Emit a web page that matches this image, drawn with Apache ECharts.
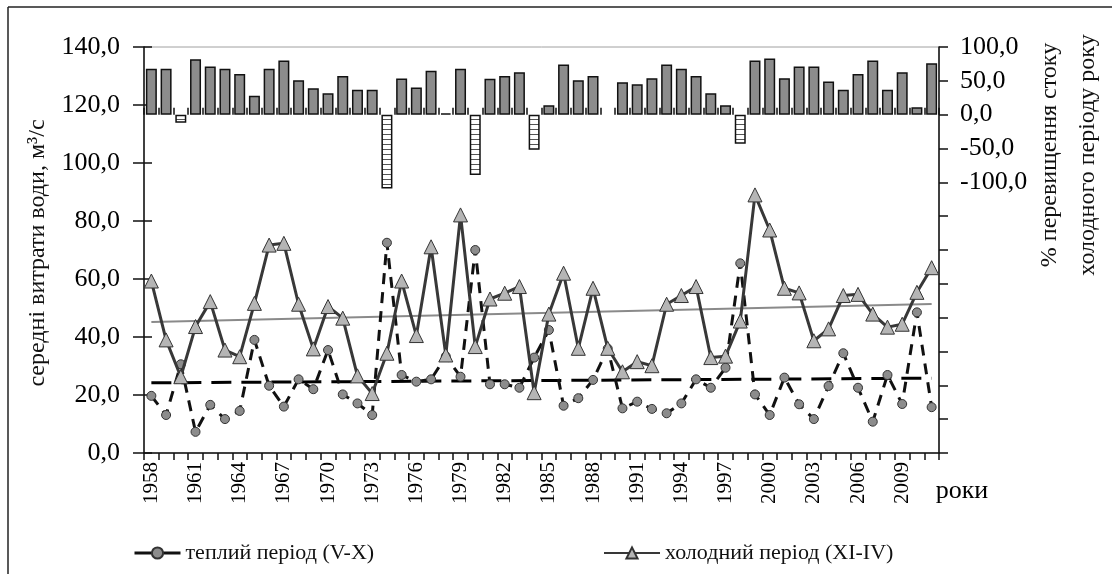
<!DOCTYPE html>
<html>
<head>
<meta charset="utf-8">
<script src="https://cdn.jsdelivr.net/npm/echarts@6/dist/echarts.min.js"></script>
<style>
html,body{margin:0;padding:0;background:#fff;}
#chart{width:1112px;height:574px;}
</style>
</head>
<body>
<div id="chart"></div>
<script>
// ---- data ----
const years = ['1958','1959','1960','1961','1962','1963','1964','1965','1966','1967',
  '1968','1969','1970','1971','1972','1973','1974','1975','1976','1977',
  '1978','1979','1980','1981','1982','1983','1984','1985','1986','1987',
  '1988','1989','1990','1991','1992','1993','1994','1995','1996','1997',
  '1998','1999','2000','2001','2002','2003','2004','2005','2006','2007',
  '2008','2009','2010','2011'];

// warm period (V-X), m3/s
const warmFlow = [19.7, 13.1, 30.6, 7.3, 16.6, 11.7, 14.5, 39.0, 23.2, 16.0,
  25.4, 22.0, 35.5, 20.2, 17.1, 13.1, 72.5, 26.9, 24.6, 25.4,
  33.3, 26.3, 70.0, 23.7, 23.7, 22.5, 32.9, 42.4, 16.3, 18.9,
  25.2, 36.0, 15.4, 17.7, 15.2, 13.7, 17.1, 25.4, 22.5, 29.4,
  65.4, 20.2, 13.1, 26.0, 16.8, 11.7, 23.1, 34.4, 22.5, 10.8,
  26.9, 16.9, 48.5, 15.8];

// cold period (XI-IV), m3/s
const coldFlow = [59.3, 39.0, 26.3, 43.6, 52.2, 35.5, 33.2, 51.6, 71.7, 72.3,
  51.3, 35.9, 50.5, 46.5, 26.6, 20.5, 34.4, 59.3, 40.5, 71.1,
  33.8, 82.1, 36.7, 53.1, 55.1, 57.4, 20.8, 47.9, 62.0, 36.1,
  56.8, 36.1, 28.0, 31.5, 30.1, 51.3, 54.3, 57.4, 32.9, 33.4,
  45.5, 89.0, 76.9, 56.8, 55.2, 38.7, 42.8, 54.3, 54.7, 47.9,
  43.4, 44.4, 55.4, 63.9];

// % excess of cold-period runoff
const excessPct = [68, 68, -12, 82, 71, 68, 60, 28, 68, 80,
  51, 39, 31.5, 57, 37, 37, -109, 53.6, 40, 65,
  2, 68, -89, 53, 57, 62.6, -52, 14, 74, 51,
  57, null, 48, 45, 54, 74, 68, 57, 31.5, 14,
  -43, 80, 83, 54, 71, 71, 49, 37, 60, 80,
  37, 62.6, 11, 76];

// trend lines (end points)
const trendYears = ['1958', '2011'];
const warmTrend = [24.2, 25.8];
const coldTrend = [45.2, 51.4];

const leftTicks = {min: 0, max: 140, step: 20};
const rightTicks = {min: -500, max: 100, step: 50, labelFrom: -100};

const warmName = 'теплий період (V-X)';
const coldName = 'холодний період (XI-IV)';

// ---- chart ----
const FONT = 'Liberation Serif';
const fmt = v => v.toFixed(1).replace('.', ',');

const pc = document.createElement('canvas');
pc.width = 6; pc.height = 5;
const pctx = pc.getContext('2d');
pctx.fillStyle = '#ffffff'; pctx.fillRect(0, 0, 6, 5);
pctx.fillStyle = '#555555'; pctx.fillRect(0, 4, 6, 1);

const barData = excessPct.map(v => {
  if (v === null) return '-';
  if (v < 0) return {value: v, itemStyle: {color: {image: pc, repeat: 'repeat'}, borderColor: '#111', borderWidth: 1.5}};
  return {value: v, itemStyle: {color: '#8c8c8c', borderColor: '#111', borderWidth: 1.5}};
});

const chart = echarts.init(document.getElementById('chart'), null, {renderer: 'canvas'});
chart.setOption({
  animation: false,
  backgroundColor: '#fff',
  grid: {left: 144, right: 173, top: 47, bottom: 121, show: true, borderColor: '#a0a0a0', borderWidth: 1},
  legend: [
    {data: [warmName], left: 128, top: 537, itemWidth: 46, itemHeight: 14, itemGap: 10,
     lineStyle: {type: 'solid', width: 3, color: '#111'},
     textStyle: {fontFamily: FONT, fontSize: 22, color: '#111'}},
    {data: [coldName], left: 598, top: 537, itemWidth: 56, itemHeight: 14, itemGap: 10,
     textStyle: {fontFamily: FONT, fontSize: 22, color: '#111'}}
  ],
  xAxis: [
    {type: 'category', data: years, boundaryGap: true, position: 'bottom',
     axisLine: {show: true, lineStyle: {color: '#111', width: 1.5}},
     axisTick: {show: true, interval: 0, length: 7, lineStyle: {color: '#111', width: 1.5}},
     axisLabel: {interval: 2, rotate: 90, margin: 9, fontFamily: FONT, fontSize: 21, color: '#000'},
     splitLine: {show: false}},
    {type: 'category', data: years, boundaryGap: true, position: 'bottom',
     axisLine: {show: false},
     axisTick: {show: true, inside: true, interval: 0, length: 7, lineStyle: {color: '#111', width: 1.5}},
     axisLabel: {show: false}, splitLine: {show: false}}
  ],
  yAxis: [
    {type: 'value', position: 'left', min: leftTicks.min, max: leftTicks.max, interval: leftTicks.step,
     axisLine: {show: true, lineStyle: {color: '#111', width: 1.5}},
     axisTick: {show: true, length: 11, lineStyle: {color: '#111', width: 1.5}},
     axisLabel: {formatter: fmt, margin: 24, fontFamily: FONT, fontSize: 26, color: '#000'},
     splitLine: {show: false}},
    {type: 'value', position: 'right', min: rightTicks.min, max: rightTicks.max, interval: rightTicks.step,
     axisLine: {show: true, lineStyle: {color: '#111', width: 1.5}},
     axisTick: {show: true, length: 9, lineStyle: {color: '#111', width: 1.5}},
     axisLabel: {formatter: v => v >= rightTicks.labelFrom ? fmt(v) : '', margin: 21, fontFamily: FONT, fontSize: 26, color: '#000'},
     splitLine: {show: false}},
    {type: 'value', position: 'left', min: leftTicks.min, max: leftTicks.max, interval: leftTicks.step,
     axisLine: {show: false},
     axisTick: {show: true, inside: true, length: 8, lineStyle: {color: '#111', width: 1.5}},
     axisLabel: {show: false}, splitLine: {show: false}}
  ],
  series: [
    {name: 'warmTrend', type: 'line', xAxisIndex: 0, yAxisIndex: 0, silent: true, symbol: 'none',
     data: trendYears.map((y, i) => [y, warmTrend[i]]),
     lineStyle: {color: '#000', width: 3, type: [20, 10]}, z: 1},
    {name: 'coldTrend', type: 'line', xAxisIndex: 0, yAxisIndex: 0, silent: true, symbol: 'none',
     data: trendYears.map((y, i) => [y, coldTrend[i]]),
     lineStyle: {color: '#8a8a8a', width: 2}, z: 1},
    {name: 'excess', type: 'bar', xAxisIndex: 0, yAxisIndex: 1, barWidth: 11, data: barData, z: 2},
    {name: warmName, type: 'line', xAxisIndex: 0, yAxisIndex: 0, data: warmFlow,
     symbol: 'circle', symbolSize: 9, showAllSymbol: true,
     itemStyle: {color: '#8c8c8c', borderColor: '#333', borderWidth: 1},
     lineStyle: {color: '#111', width: 3, type: [11, 8]}, z: 3},
    {name: coldName, type: 'line', xAxisIndex: 0, yAxisIndex: 0, data: coldFlow,
     symbol: 'triangle', symbolSize: 14, showAllSymbol: true,
     itemStyle: {color: '#b5b5b5', borderColor: '#333', borderWidth: 1},
     lineStyle: {color: '#383838', width: 3}, z: 4}
  ],
  graphic: [
    {type: 'line', shape: {x1: 8, y1: 7, x2: 1112, y2: 7}, style: {stroke: '#222', lineWidth: 1.5}, silent: true},
    {type: 'line', shape: {x1: 8, y1: 7, x2: 8, y2: 574}, style: {stroke: '#222', lineWidth: 1.5}, silent: true},
    {type: 'text', x: 38, y: 253, rotation: Math.PI / 2,
     style: {text: 'середні витрати води, м³/с', fontFamily: FONT, fontSize: 24, fill: '#111',
       align: 'center', verticalAlign: 'middle', textAlign: 'center', textVerticalAlign: 'middle'}},
    {type: 'text', x: 1050, y: 155, rotation: Math.PI / 2,
     style: {text: '% перевищення стоку', fontFamily: FONT, fontSize: 24, fill: '#111',
       align: 'center', verticalAlign: 'middle', textAlign: 'center', textVerticalAlign: 'middle'}},
    {type: 'text', x: 1088, y: 155, rotation: Math.PI / 2,
     style: {text: 'холодного періоду року', fontFamily: FONT, fontSize: 24, fill: '#111',
       align: 'center', verticalAlign: 'middle', textAlign: 'center', textVerticalAlign: 'middle'}},
    {type: 'text', x: 962, y: 491,
     style: {text: 'роки', fontFamily: FONT, fontSize: 26, fill: '#000',
       align: 'center', verticalAlign: 'middle', textAlign: 'center', textVerticalAlign: 'middle'}}
  ]
});
</script>
</body>
</html>
